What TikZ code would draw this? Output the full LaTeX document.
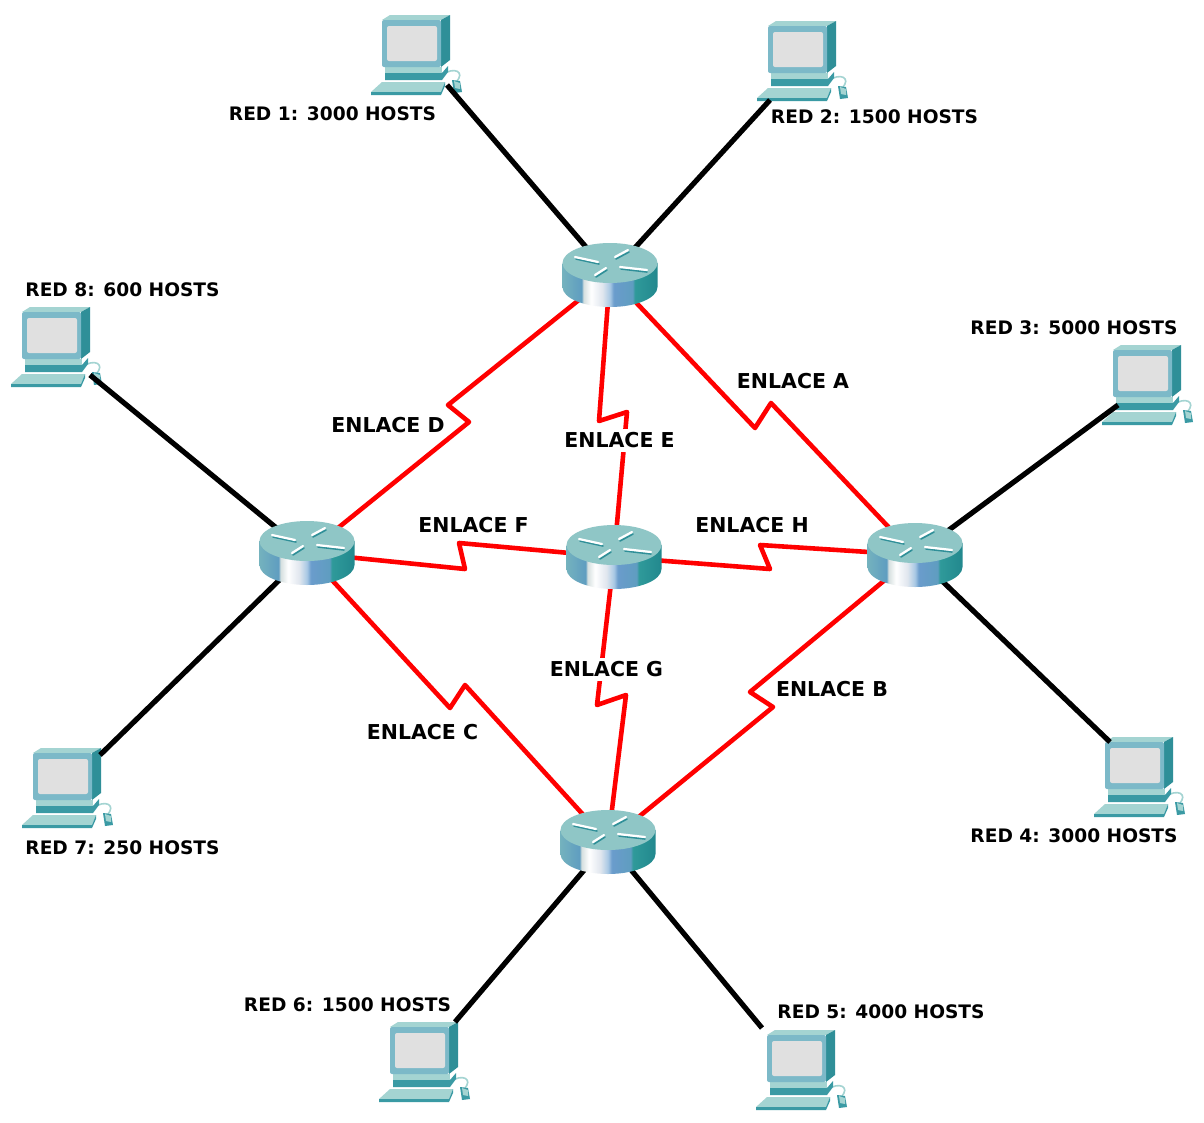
\documentclass[tikz,border=0pt]{standalone}
\usepackage{fontspec}
\setmainfont{DejaVu Sans}
\definecolor{topface}{HTML}{8FC6C6}
\definecolor{teald}{HTML}{2F8F98}
\definecolor{tealm}{HTML}{3A9AA4}
\definecolor{frame}{HTML}{7CB9C8}
\definecolor{lightt}{HTML}{A4D4D2}
\definecolor{screen}{HTML}{E0E0E0}
\definecolor{wanred}{HTML}{FF0000}
\definecolor{edgeb}{HTML}{5F9DC0}
\definecolor{edgel}{HTML}{74B2BE}
\definecolor{edgeg}{HTML}{D4DEDE}
\definecolor{edgew}{HTML}{FFFFFF}
\definecolor{edgei}{HTML}{E0E6EE}
\definecolor{edgea}{HTML}{A8C8E4}
\definecolor{edgec}{HTML}{6A9CCC}
\definecolor{edget}{HTML}{2F9A9A}
\definecolor{edgee}{HTML}{22888E}
\pgfdeclarehorizontalshading{rside}{100bp}{%
 color(0bp)=(edgel); color(25bp)=(edgel); color(35bp)=(edgeb); color(36bp)=(edgeg);
 color(40bp)=(edgew); color(46bp)=(edgei); color(50bp)=(edgea); color(52bp)=(edgec);
 color(62bp)=(edgeb); color(63bp)=(edget); color(75bp)=(edgee); color(100bp)=(edgee)}
\tikzset{
 devbox/.style={inner sep=0pt,minimum width=95pt,minimum height=64pt},
 pcbox/.style={inner sep=0pt,minimum width=92pt,minimum height=80pt},
 lan/.style={line width=5.2pt,black,line join=round},
 wan/.style={line width=4.6pt,wanred,line join=round},
 netlabel/.style={inner sep=0pt,font=\bfseries\fontsize{18.6}{20}\selectfont,text=black},
 linklabel/.style={inner sep=0pt,font=\bfseries\fontsize{20.5}{22}\selectfont,text=black},
 gaplabel/.style={linklabel,fill=white,minimum height=23pt}
}
\newcommand{\routerart}[1]{%
 \begin{scope}[shift={(#1)}]
  \path[shading=rside] (-47.5,-12) -- (-47.5,12) arc[start angle=180,end angle=360,x radius=47.5pt,y radius=20pt] -- (47.5,-12) -- cycle;
  \fill[topface] (0,-12) ellipse[x radius=47.5pt,y radius=20pt];
  \draw[teald,line width=1.6pt,line cap=round]
    (-34,-16) -- (-11,-11) (6,-16) -- (19,-23) (11,-6) -- (37,-3) (-14,2) -- (-3,-5);
  \draw[white,line width=2.2pt,line cap=round]
    (-35,-18) -- (-12,-13) (5,-18) -- (18,-25) (10,-8) -- (37,-5) (-15,0) -- (-4,-7);
 \end{scope}}
\newcommand{\pcart}[1]{%
 \begin{scope}[shift={(#1)}]
  \draw[lightt,line width=1.6pt] (60,55) .. controls (72,46) and (84,52) .. (74,62);
  \fill[tealm] (70,60) -- (78,61) -- (80,72) -- (72,73) -- cycle;
  \fill[lightt] (72,61) -- (78,63) -- (78,69) -- (73,68) -- cycle;
  \fill[lightt] (-11,72) -- (0,62) -- (63,62) -- (59,72) -- cycle;
  \fill[tealm] (-11,72) -- (59,72) -- (63,62) -- (63,66) -- (59,75) -- (-11,75) -- cycle;
  \fill[lightt] (3,47) -- (60,47) -- (60,53) -- (3,53) -- cycle;
  \fill[tealm] (3,53) -- (60,53) -- (66,46) -- (66,52) -- (60,60) -- (3,60) -- cycle;
  \fill[lightt] (0,0) -- (8,-5) -- (68,-5) -- (59,0) -- cycle;
  \fill[teald] (59,0) -- (68,-5) -- (68,40) -- (59,47) -- cycle;
  \fill[frame,rounded corners=2pt] (0,0) rectangle (59,47);
  \fill[screen,rounded corners=2pt] (5,6) rectangle (55,41);
 \end{scope}}
\begin{document}
\begin{tikzpicture}[x=1pt,y=-1pt]
\useasboundingbox (0,0) rectangle (1204,1122);
\fill[white] (0,0) rectangle (1204,1122);
% routers
\node[devbox] (r1) at (610,275) {};
\node[devbox] (rl) at (307,553) {};
\node[devbox] (rm) at (614,557) {};
\node[devbox] (rr) at (915,555) {};
\node[devbox] (rb) at (608,842) {};
% hosts
\node[pcbox] (pc1) at (417,55) {};
\node[pcbox] (pc2) at (803,61) {};
\node[pcbox] (pc3) at (1148,385) {};
\node[pcbox] (pc4) at (1140,777) {};
\node[pcbox] (pc5) at (802,1070) {};
\node[pcbox] (pc6) at (425,1062) {};
\node[pcbox] (pc7) at (68,788) {};
\node[pcbox] (pc8) at (57,347) {};
\pcart{382,20}
\pcart{768,26}
\pcart{1113,350}
\pcart{1105,742}
\pcart{767,1035}
\pcart{390,1027}
\pcart{33,753}
\pcart{22,312}
% ports
\coordinate (p1) at (447,85);
\coordinate (p2) at (770,100);
\coordinate (p3) at (1118,405);
\coordinate (p4) at (1110,742);
\coordinate (p5) at (762,1028);
\coordinate (p6) at (455,1022);
\coordinate (p7) at (100,755);
\coordinate (p8) at (90,375);
\draw[lan] (r1.center) -- (p1);
\draw[lan] (r1.center) -- (p2);
\draw[lan] (rr.center) -- (p3);
\draw[lan] (rr.center) -- (p4);
\draw[lan] (rb.center) -- (p5);
\draw[lan] (rb.center) -- (p6);
\draw[lan] (rl.center) -- (p7);
\draw[lan] (rl.center) -- (p8);
% serial links
\draw[wan] (r1.center) -- (755,428) -- (771,403) -- (rr.center);
\draw[wan] (rr.center) -- (750,692) -- (773,707) -- (rb.center);
\draw[wan] (rl.center) -- (450,708) -- (465,685) -- (rb.center);
\draw[wan] (rl.center) -- (469,422) -- (448,405) -- (r1.center);
\draw[wan] (r1.center) -- (599,421) -- (627,412) -- (rm.center);
\draw[wan] (rl.center) -- (465,569) -- (459,543) -- (rm.center);
\draw[wan] (rm.center) -- (597,705) -- (626,695) -- (rb.center);
\draw[wan] (rm.center) -- (770,569) -- (760,545) -- (rr.center);
\routerart{610,275}
\routerart{307,553}
\routerart{614,557}
\routerart{915,555}
\routerart{608,842}
% labels
\node[netlabel] (t1) at (332.5,114) {RED 1: 3000 HOSTS};
\node[netlabel] (t2) at (874.5,117) {RED 2: 1500 HOSTS};
\node[netlabel] (t3) at (1074,328) {RED 3: 5000 HOSTS};
\node[netlabel] (t4) at (1074,836) {RED 4: 3000 HOSTS};
\node[netlabel] (t5) at (881,1012) {RED 5: 4000 HOSTS};
\node[netlabel] (t6) at (347.5,1005) {RED 6: 1500 HOSTS};
\node[netlabel] (t7) at (122.5,848) {RED 7: 250 HOSTS};
\node[netlabel] (t8) at (122.5,290) {RED 8: 600 HOSTS};
\node[linklabel] (la) at (793,381) {ENLACE A};
\node[linklabel] (lb) at (832,689) {ENLACE B};
\node[linklabel] (lc) at (422.5,732) {ENLACE C};
\node[linklabel] (ld) at (388,425) {ENLACE D};
\node[gaplabel] (le) at (619.5,440) {ENLACE E};
\node[linklabel] (lf) at (473.5,525) {ENLACE F};
\node[gaplabel] (lg) at (606.5,669) {ENLACE G};
\node[linklabel] (lh) at (752,525) {ENLACE H};
\end{tikzpicture}
\end{document}
